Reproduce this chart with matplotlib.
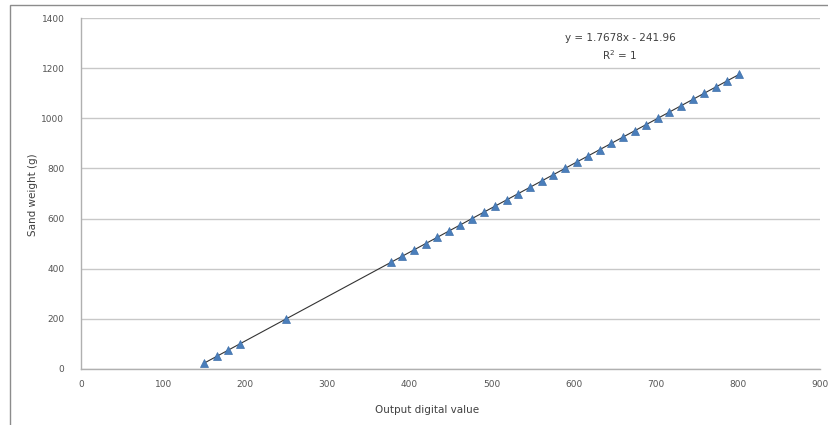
import matplotlib.pyplot as plt
import numpy as np
from matplotlib.patches import Rectangle

# Sand weight steps and sensor readings
sand_weight = [25, 50, 75, 100, 200,
               425, 450, 475, 500, 525, 550, 575, 600, 625, 650, 675, 700,
               725, 750, 775, 800, 825, 850, 875, 900, 925, 950, 975, 1000,
               1025, 1050, 1075, 1100, 1125, 1150, 1175]
digital_value = [150.0, 165.2, 179.3, 193.4, 250.0,
                 377.3, 391.4, 405.6, 419.7, 433.8, 448.0, 462.1, 476.2, 490.4,
                 504.5, 518.7, 532.8, 546.9, 561.1, 575.2, 589.4, 603.5, 617.6,
                 631.8, 645.9, 660.0, 674.2, 688.3, 702.5, 716.6, 730.7, 744.9,
                 759.0, 773.1, 787.3, 801.4]

x_ticks = [0, 100, 200, 300, 400, 500, 600, 700, 800, 900]
y_ticks = [0, 200, 400, 600, 800, 1000, 1200, 1400]

eq_text = "y = 1.7678x - 241.96"
r2_text = "R$^2$ = 1"

fig = plt.figure(figsize=(8.29, 4.25), dpi=100)
ax = fig.add_axes([81 / 829, 1 - 369 / 425, (820 - 81) / 829, (369 - 18) / 425])

# outer chart frame
fig.patches.append(Rectangle((10 / 829, -0.1), 1.0, 1 - 5 / 425 + 0.1,
                             transform=fig.transFigure, fill=False,
                             edgecolor="#8c8c8c", linewidth=1.0))

xs = np.array(digital_value)
ys = np.array(sand_weight)
slope, intercept = np.polyfit(xs, ys, 1)
line_x = np.array([xs.min(), xs.max()])
ax.plot(line_x, slope * line_x + intercept, color="#333333", linewidth=0.8, zorder=2)
ax.plot(xs, ys, linestyle="none", marker="^", markersize=6.2,
        markerfacecolor="#4a7ebb", markeredgecolor="#3f70aa", markeredgewidth=0.5, zorder=3)

ax.set_xlim(0, 900)
ax.set_ylim(0, 1400)
ax.set_xticks(x_ticks)
ax.set_yticks(y_ticks)
ax.tick_params(axis="both", length=0, labelsize=6.5, labelcolor="#555555")
ax.tick_params(axis="x", pad=8)
ax.tick_params(axis="y", pad=12)
ax.grid(axis="y", color="#c8c8c8", linewidth=1.0)
ax.set_axisbelow(True)
for side in ["top", "right"]:
    ax.spines[side].set_visible(False)
for side in ["left", "bottom"]:
    ax.spines[side].set_color("#b0b0b0")
    ax.spines[side].set_linewidth(1.0)

fig.text(33 / 829, 1 - 195 / 425, "Sand weight (g)", rotation=90, ha="center", va="center",
         fontsize=7.5, color="#404040")
fig.text(427 / 829, 1 - 410 / 425, "Output digital value", ha="center", va="center",
         fontsize=7.5, color="#404040")
fig.text(620 / 829, 1 - 38 / 425, eq_text, ha="center", va="center", fontsize=7.5, color="#404040")
fig.text(620 / 829, 1 - 55 / 425, r2_text, ha="center", va="center", fontsize=7.5, color="#404040")

fig.savefig("out.png", dpi=100)
